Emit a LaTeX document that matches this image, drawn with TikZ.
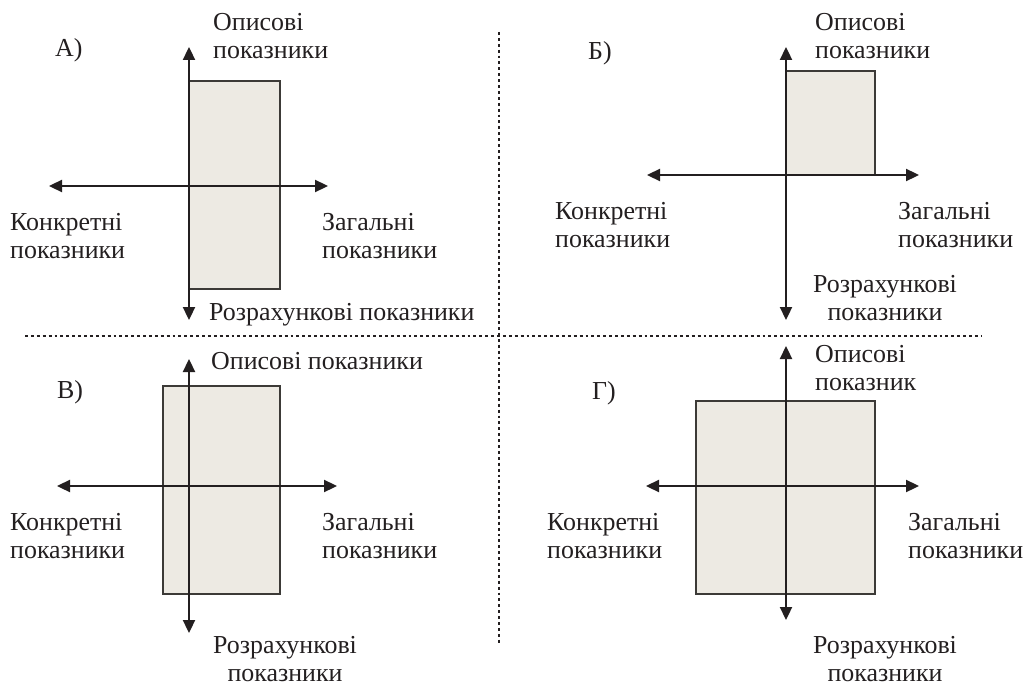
\documentclass[tikz,border=0pt]{standalone}
\usepackage{fontspec}
\setmainfont{Liberation Serif}
\usetikzlibrary{arrows.meta}
\definecolor{ink}{RGB}{35,31,32}
\definecolor{boxfill}{RGB}{237,234,227}
\definecolor{boxline}{RGB}{60,58,55}
\tikzset{
  lbl/.style={font=\fontsize{26}{28}\selectfont, inner sep=0pt, text=ink},
  axis/.style={draw=ink, line width=2.3bp, {Triangle[length=13bp,width=12bp]}-{Triangle[length=13bp,width=12bp]}},
  region/.style={draw=boxline, line width=1.2bp, fill=boxfill},
  sep/.style={draw=ink, line width=2.8bp, dash pattern=on 2.9bp off 3bp}
}
\begin{document}
\begin{tikzpicture}[x=1bp,y=-1bp]
\useasboundingbox (0,0) rectangle (1032,687);
% separators
\coordinate (h1) at (25,336); \coordinate (h2) at (982,336);
\coordinate (v1) at (499,32); \coordinate (v2) at (499,644);
\draw[sep] (h1) -- (h2);
\draw[sep] (v1) -- (v2);

% ---- Panel A
\coordinate (At) at (189,47); \coordinate (Ab) at (189,320);
\coordinate (Al) at (49,186); \coordinate (Ar) at (328,186);
\path[region] (189,81) rectangle (280,289);
\draw[axis] (At) -- (Ab);
\draw[axis] (Al) -- (Ar);
\node[lbl, anchor=west] (Aname) at (55,50) {А)};
\node[lbl, anchor=west, align=left] (Atop) at (213,36) {Описові\\показники};
\node[lbl, anchor=west, align=left] (Aleft) at (10,236) {Конкретні\\показники};
\node[lbl, anchor=west, align=left] (Aright) at (322,236) {Загальні\\показники};
\node[lbl, anchor=west] (Abot) at (209,315) {Розрахункові показники};

% ---- Panel B
\coordinate (Bt) at (786,47); \coordinate (Bb) at (786,320);
\coordinate (Bl) at (647,175); \coordinate (Br) at (919,175);
\path[region] (786,71) rectangle (875,175);
\draw[axis] (Bt) -- (Bb);
\draw[axis] (Bl) -- (Br);
\node[lbl, anchor=west] (Bname) at (588,53) {Б)};
\node[lbl, anchor=west, align=left] (Btop) at (815,36) {Описові\\показники};
\node[lbl, anchor=west, align=left] (Bleft) at (555,225) {Конкретні\\показники};
\node[lbl, anchor=west, align=left] (Bright) at (898,225) {Загальні\\показники};
\node[lbl, align=center] (Bbot) at (885,298) {Розрахункові\\показники};

% ---- Panel C
\coordinate (Ct) at (189,359); \coordinate (Cb) at (189,633);
\coordinate (Cl) at (57,486); \coordinate (Cr) at (337,486);
\path[region] (163,386) rectangle (280,594);
\draw[axis] (Ct) -- (Cb);
\draw[axis] (Cl) -- (Cr);
\node[lbl, anchor=west] (Cname) at (57,392) {В)};
\node[lbl, anchor=west] (Ctop) at (211,361) {Описові показники};
\node[lbl, anchor=west, align=left] (Cleft) at (10,536) {Конкретні\\показники};
\node[lbl, anchor=west, align=left] (Cright) at (322,536) {Загальні\\показники};
\node[lbl, align=center] (Cbot) at (285,659) {Розрахункові\\показники};

% ---- Panel D
\coordinate (Dt) at (786,346); \coordinate (Db) at (786,620);
\coordinate (Dl) at (646,486); \coordinate (Dr) at (919,486);
\path[region] (696,401) rectangle (875,594);
\draw[axis] (Dt) -- (Db);
\draw[axis] (Dl) -- (Dr);
\node[lbl, anchor=west] (Dname) at (592,393) {Г)};
\node[lbl, anchor=west, align=left] (Dtop) at (815,368) {Описові\\показник};
\node[lbl, anchor=west, align=left] (Dleft) at (547,536) {Конкретні\\показники};
\node[lbl, anchor=west, align=left] (Dright) at (908,536) {Загальні\\показники};
\node[lbl, align=center] (Dbot) at (885,659) {Розрахункові\\показники};
\end{tikzpicture}
\end{document}
